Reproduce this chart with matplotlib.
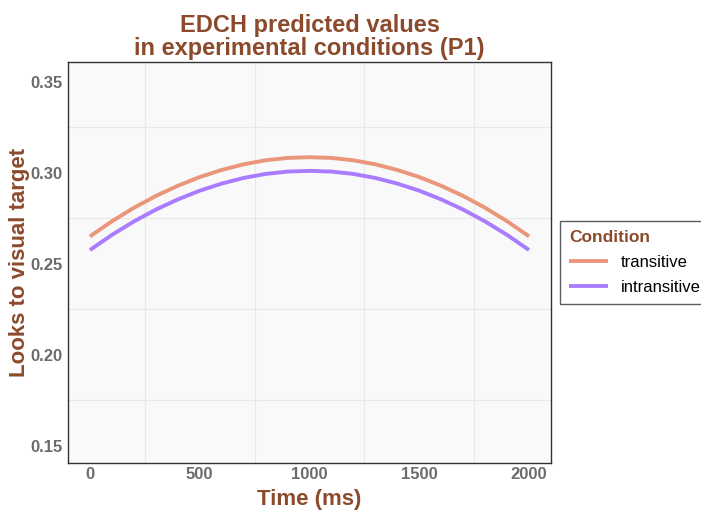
import matplotlib.pyplot as plt
from matplotlib.ticker import MultipleLocator

plt.rcParams['font.family'] = ['Liberation Sans', 'DejaVu Sans']

# values
time_ms = [0, 100, 200, 300, 400, 500, 600, 700, 800, 900, 1000,
           1100, 1200, 1300, 1400, 1500, 1600, 1700, 1800, 1900, 2000]
transitive = [0.2650, 0.2733, 0.2807, 0.2872, 0.2928, 0.2976, 0.3015, 0.3046, 0.3068, 0.3081, 0.3085,
              0.3081, 0.3068, 0.3046, 0.3015, 0.2976, 0.2928, 0.2872, 0.2807, 0.2733, 0.2650]
intransitive = [0.2575, 0.2658, 0.2732, 0.2797, 0.2853, 0.2901, 0.2940, 0.2971, 0.2993, 0.3006, 0.3010,
                0.3006, 0.2993, 0.2971, 0.2940, 0.2901, 0.2853, 0.2797, 0.2732, 0.2658, 0.2575]
labels = ['transitive', 'intransitive']
colors = ['#E9967A', '#A97CFF']
xticks = [0, 500, 1000, 1500, 2000]
yticks = [0.15, 0.20, 0.25, 0.30, 0.35]

brown = '#8B4A2B'
grey = '#6B6B6B'

fig = plt.figure(figsize=(7.01, 5.11), dpi=100)
ax = fig.add_axes([68/701, 1 - 463/511, (551-68)/701, (463-62)/511])
ax.set_facecolor('#F9F9F9')

for y, lab, c in zip([transitive, intransitive], labels, colors):
    ax.plot(time_ms, y, color=c, lw=2.8, label=lab, solid_capstyle='butt')

ax.set_xlim(-100, 2100)
ax.set_ylim(0.1405, 0.3608)
ax.set_xticks(xticks)
ax.set_yticks(yticks)
ax.set_yticklabels(['%.2f' % v for v in yticks])
ax.xaxis.set_minor_locator(MultipleLocator(500, offset=250))
ax.yaxis.set_minor_locator(MultipleLocator(0.05, offset=0.025))
ax.grid(which='minor', color='#E8E8E8', lw=0.8)
ax.grid(which='major', visible=False)
ax.set_axisbelow(True)
ax.tick_params(which='both', length=0)
ax.tick_params(axis='x', pad=3)
ax.tick_params(axis='y', pad=4)
for t in ax.get_xticklabels() + ax.get_yticklabels():
    t.set_fontsize(12)
    t.set_fontweight('bold')
    t.set_color(grey)
for s in ax.spines.values():
    s.set_color('#333333')
    s.set_linewidth(1.0)

ax.set_xlabel('Time (ms)', fontsize=16, fontweight='bold', color=brown, labelpad=5)
ax.set_ylabel('Looks to visual target', fontsize=16, fontweight='bold', color=brown, labelpad=0)
ax.set_title('EDCH predicted values\nin experimental conditions (P1)', fontsize=17,
             fontweight='bold', color=brown, linespacing=1.0, pad=5)

leg = fig.legend(loc='upper left', bbox_to_anchor=(560/701, 1 - 221/511), frameon=True,
                 fancybox=False, title='Condition', fontsize=12, handlelength=2.3,
                 borderpad=0.55, labelspacing=0.6, borderaxespad=0, alignment='left')
leg.get_frame().set_edgecolor('#333333')
leg.get_frame().set_linewidth(1.0)
leg.get_title().set_fontweight('bold')
leg.get_title().set_color(brown)
leg.get_title().set_fontsize(12.5)

fig.savefig('out.png', dpi=100)
